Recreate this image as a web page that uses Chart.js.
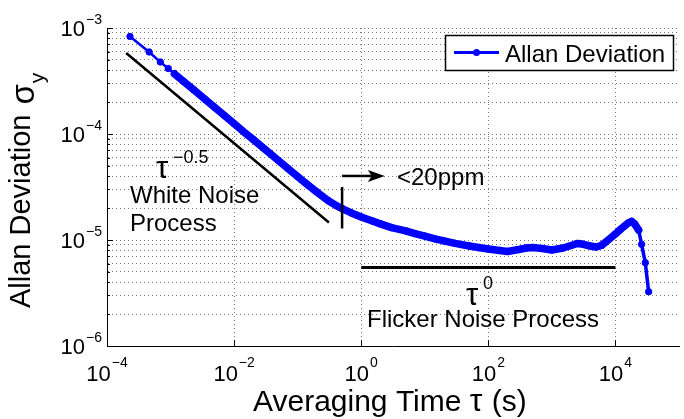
<!DOCTYPE html>
<html><head><meta charset="utf-8">
<script src="https://cdn.jsdelivr.net/npm/chart.js@4/dist/chart.umd.min.js"></script>
<style>html,body{margin:0;padding:0;background:#fff;}#wrap{width:684px;height:419px;}</style>
</head><body><div id="wrap"><canvas id="c" width="684" height="419"></canvas></div>
<script>
// ---- data ----
const seriesLabel = 'Allan Deviation';
const tauValues = [2.3e-4, 4.6e-4, 6.9e-4, 9.2e-4, 1.15e-3, 1.6e-3, 2.3e-3, 3.5e-3, 5e-3, 7e-3,
  1e-2, 1.5e-2, 2e-2, 3e-2, 5e-2, 7e-2, 0.1, 0.15, 0.2, 0.3,
  0.4, 0.5, 0.7, 1, 1.5, 2, 3, 5, 7, 10, 15,
  20, 30, 50, 70, 100, 150, 200, 300, 400, 500,
  700, 1000, 1500, 2000, 2500, 3000, 4000, 5000, 6000, 7000,
  8000, 10000, 12000, 14000, 16000, 18000, 20000, 23200, 25800, 29500, 33300];
const adevValues = [8.32e-4, 5.94e-4, 4.78e-4, 4.15e-4, 3.70e-4, 3.14e-4, 2.62e-4, 2.12e-4, 1.77e-4, 1.50e-4,
  1.25e-4, 1.02e-4, 8.87e-5, 7.24e-5, 5.61e-5, 4.74e-5, 3.97e-5, 3.25e-5, 2.84e-5, 2.36e-5,
  2.12e-5, 1.98e-5, 1.80e-5, 1.65e-5, 1.51e-5, 1.42e-5, 1.31e-5, 1.22e-5, 1.15e-5, 1.09e-5, 1.02e-5,
  9.8e-6, 9.3e-6, 8.78e-6, 8.49e-6, 8.22e-6, 7.96e-6, 7.80e-6, 8.13e-6, 8.41e-6, 8.49e-6,
  8.31e-6, 8.05e-6, 8.41e-6, 8.87e-6, 9.27e-6, 9.16e-6, 8.78e-6, 8.59e-6, 8.87e-6, 9.57e-6,
  1.02e-5, 1.14e-5, 1.26e-5, 1.36e-5, 1.45e-5, 1.50e-5, 1.42e-5, 1.24e-5, 9.1e-6, 6.11e-6, 3.25e-6];
const whiteNoiseTau = [2e-4, 0.31];
const whiteNoiseAdev = [5.81e-4, 1.46e-5];
const markerTau = [0.5, 0.5];
const markerAdev = [3.16e-5, 1.285e-5];
const flickerTau = [1, 1e4];
const flickerAdev = [5.5e-6, 5.5e-6];
const arrowTau = [0.5, 2.35];
const arrowAdev = [4.02e-5, 4.02e-5];
const xTickValues = [1e-4, 1e-2, 1, 1e2, 1e4];
const yTickValues = [1e-6, 1e-5, 1e-4, 1e-3];
const xRange = [1e-4, 1e5];
const yRange = [1e-6, 1e-3];

const FONT = '"Liberation Sans", Arial, Helvetica, sans-serif';
const pts = (xs, ys) => xs.map((x, i) => ({x: x, y: ys[i]}));
const yAllTicks = [];
yTickValues.forEach((d, i) => {
  yAllTicks.push(d);
  if (i < yTickValues.length - 1) for (let k = 2; k <= 9; k++) yAllTicks.push(d * k);
});
const expStr = v => { const e = Math.round(Math.log10(v)); return (e < 0 ? '\u2212' : '') + Math.abs(e); };

function drawSup(ctx, base, sup, x, y, baseSize, supSize, rise, align) {
  ctx.font = baseSize + 'px ' + FONT;
  const wb = ctx.measureText(base).width;
  ctx.font = supSize + 'px ' + FONT;
  const ws = ctx.measureText(sup).width;
  const total = wb + 1 + ws;
  let x0 = x;
  if (align === 'center') x0 = x - total / 2;
  else if (align === 'right') x0 = x - total;
  ctx.textAlign = 'left';
  ctx.textBaseline = 'alphabetic';
  ctx.font = baseSize + 'px ' + FONT;
  ctx.fillText(base, x0, y);
  ctx.font = supSize + 'px ' + FONT;
  ctx.fillText(sup, x0 + wb + 1, y - rise);
}

// draw a run of [text, size, dy] pieces left to right
function drawRun(ctx, pieces, x, y) {
  let cx = x;
  pieces.forEach(p => {
    ctx.font = p[1] + 'px ' + FONT;
    ctx.fillText(p[0], cx, y + (p[2] || 0));
    cx += ctx.measureText(p[0]).width + (p[3] || 0);
  });
}

const decor = {
  id: 'decor',
  afterDatasetsDraw(chart) {
    const ctx = chart.ctx, xs = chart.scales.x, ys = chart.scales.y;
    const ax1 = xs.getPixelForValue(arrowTau[0]), ax2 = xs.getPixelForValue(arrowTau[1]);
    const ay = ys.getPixelForValue(arrowAdev[0]);
    ctx.save();
    ctx.strokeStyle = '#000'; ctx.fillStyle = '#000'; ctx.lineWidth = 2.5;
    ctx.beginPath(); ctx.moveTo(ax1, ay); ctx.lineTo(ax2 - 12, ay); ctx.stroke();
    ctx.beginPath(); ctx.moveTo(ax2, ay); ctx.lineTo(ax2 - 17, ay - 6); ctx.lineTo(ax2 - 13, ay); ctx.lineTo(ax2 - 17, ay + 6); ctx.closePath(); ctx.fill();
    ctx.restore();
  },
  afterDraw(chart) {
    const ctx = chart.ctx, xs = chart.scales.x, ys = chart.scales.y, a = chart.chartArea;
    ctx.save();
    ctx.fillStyle = '#000'; ctx.strokeStyle = '#000';
    ctx.lineWidth = 1;
    ys.ticks.forEach(t => {
      const p = Math.round(ys.getPixelForValue(t.value)) + 0.5;
      const len = yTickValues.includes(t.value) ? 6 : 3;
      ctx.beginPath(); ctx.moveTo(a.left, p); ctx.lineTo(a.left + len, p); ctx.stroke();
    });
    xs.ticks.forEach(t => {
      const p = Math.round(xs.getPixelForValue(t.value)) + 0.5;
      ctx.beginPath(); ctx.moveTo(p, a.bottom); ctx.lineTo(p, a.bottom - 6); ctx.stroke();
    });
    xTickValues.forEach(v => {
      drawSup(ctx, '10', expStr(v), xs.getPixelForValue(v), a.bottom + 35, 22, 14, 14, 'center');
    });
    yTickValues.forEach(v => {
      drawSup(ctx, '10', expStr(v), a.left - 5, ys.getPixelForValue(v) + 8, 22, 14, 12, 'right');
    });
    ctx.textAlign = 'left'; ctx.textBaseline = 'alphabetic';
    drawRun(ctx, [['Averaging Time ', 30], ['\u03c4', 32, 0, 1], [' (s)', 30]], 253, 411);
    ctx.save();
    ctx.translate(30, 308); ctx.rotate(-Math.PI / 2);
    drawRun(ctx, [['Allan Deviation ', 29, 0, 2], ['\u03c3', 33, 4, 1], ['y', 21, 14]], 0, 0);
    ctx.restore();
    ctx.font = '31px ' + FONT; ctx.fillText('\u03c4', 156, 178);
    ctx.font = '18px ' + FONT; ctx.fillText('\u22120.5', 173, 163);
    ctx.font = '24px ' + FONT;
    ctx.fillText('White Noise', 130, 203);
    ctx.fillText('Process', 130, 231);
    ctx.fillText('<20ppm', 397, 185);
    ctx.fillText('Flicker Noise Process', 367, 327);
    ctx.font = '31px ' + FONT; ctx.fillText('\u03c4', 466, 305);
    ctx.font = '18px ' + FONT; ctx.fillText('0', 483, 289);
    const ds = chart.data.datasets.find(d => d.label === seriesLabel);
    ctx.fillStyle = '#fff';
    ctx.fillRect(445, 35, 228, 35);
    ctx.lineWidth = 1.5; ctx.strokeStyle = '#000';
    ctx.strokeRect(445.5, 35.5, 228, 35);
    ctx.strokeStyle = ds.borderColor; ctx.lineWidth = 3;
    ctx.beginPath(); ctx.moveTo(454, 52.5); ctx.lineTo(499, 52.5); ctx.stroke();
    ctx.fillStyle = ds.borderColor;
    ctx.beginPath(); ctx.arc(476.5, 52.5, 3.5, 0, Math.PI * 2); ctx.fill();
    ctx.fillStyle = '#000'; ctx.font = '24px ' + FONT;
    ctx.fillText(ds.label, 505, 62);
    ctx.restore();
  }
};

const blackLine = (data, w) => ({label: '', data: data, borderColor: '#000', borderWidth: w, pointRadius: 0, fill: false, tension: 0});

new Chart(document.getElementById('c'), {
  type: 'line',
  data: {
    datasets: [
      blackLine(pts(markerTau, markerAdev), 2.5),
      blackLine(pts(whiteNoiseTau, whiteNoiseAdev), 2.5),
      blackLine(pts(flickerTau, flickerAdev), 3),
      {
        label: seriesLabel,
        data: pts(tauValues, adevValues),
        borderColor: '#0000ff',
        backgroundColor: '#0000ff',
        pointBackgroundColor: '#0000ff',
        pointBorderColor: '#0000ff',
        pointRadius: 3.2,
        pointBorderWidth: 1,
        borderCapStyle: 'round',
        borderJoinStyle: 'round',
        tension: 0,
        fill: false,
        segment: {
          borderWidth: c => c.p0DataIndex < 4 ? 2.5 : (c.p0DataIndex < 58 ? 7.5 : 3.5)
        }
      }
    ]
  },
  options: {
    responsive: false,
    animation: false,
    devicePixelRatio: 1,
    layout: {padding: {left: 0, right: 4.5, top: 28, bottom: 0}},
    plugins: {legend: {display: false}, tooltip: {enabled: false}, title: {display: false}},
    scales: {
      x: {
        type: 'logarithmic', min: xRange[0], max: xRange[1],
        afterBuildTicks: s => { s.ticks = xTickValues.map(v => ({value: v})); },
        afterFit: s => { s.height = 73; },
        ticks: {display: false},
        grid: {color: '#777', lineWidth: 1, drawTicks: false},
        border: {display: true, color: '#000', width: 1, dash: [1, 3]}
      },
      y: {
        type: 'logarithmic', min: yRange[0], max: yRange[1],
        afterBuildTicks: s => { s.ticks = yAllTicks.map(v => ({value: v})); },
        afterFit: s => { s.width = 107; },
        ticks: {display: false},
        grid: {color: '#777', lineWidth: 1, drawTicks: false},
        border: {display: true, color: '#000', width: 1, dash: [1, 3]}
      }
    }
  },
  plugins: [decor]
});
</script>
</body></html>
